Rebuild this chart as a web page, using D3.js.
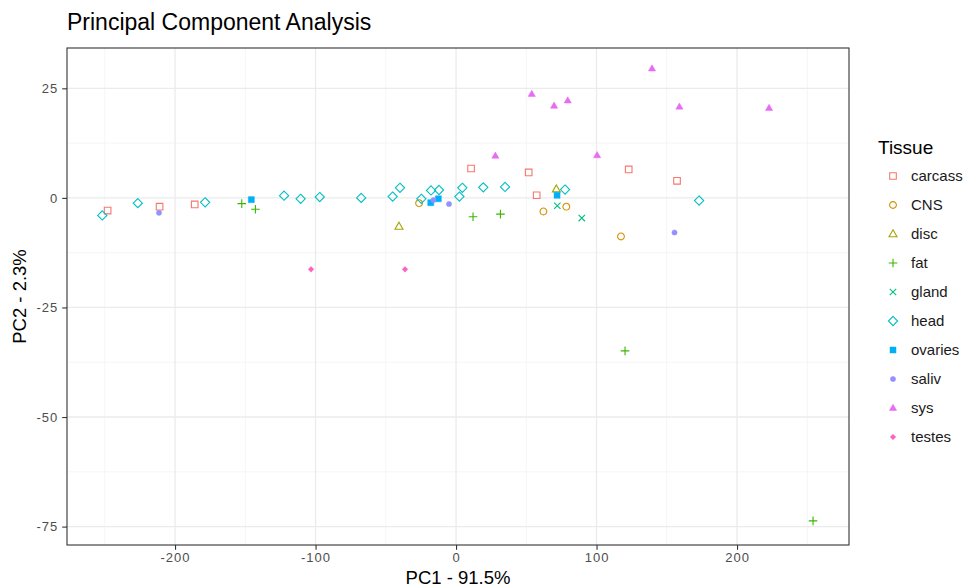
<!DOCTYPE html>
<html>
<head>
<meta charset="utf-8">
<script src="https://cdn.jsdelivr.net/npm/d3@7"></script>
<style>
  body { margin: 0; background: #fff; }
  text { font-family: "Liberation Sans", Arial, sans-serif; }
</style>
</head>
<body>
<div id="chart"></div>
<script>
// tissue groups in legend order
var tissues = ["carcass", "CNS", "disc", "fat", "gland", "head", "ovaries", "saliv", "sys", "testes"];
var colors = ["#F8766D", "#D89000", "#A3A500", "#39B600", "#00BF7D", "#00BFC4", "#00B0F6", "#9590FF", "#E76BF3", "#FF62BC"];

// PC scores, [PC1, PC2]
var carcass = [[-248, -2.9], [-211, -2.0], [-186, -1.5], [10.7, 6.7], [51.7, 5.8], [57.4, 0.6], [122.9, 6.5], [157.3, 3.9]];
var cns = [[-26.3, -1.2], [62.2, -3.1], [78.5, -2.0], [117.4, -8.8]];
var disc = [[-40.6, -6.5], [71.4, 2.0]];
var fat = [[-152.5, -1.3], [-142.8, -2.6], [12.1, -4.3], [31.6, -3.7], [120.3, -34.9], [254.1, -73.7]];
var gland = [[72.1, -1.8], [89.5, -4.6]];
var head = [[-251.8, -4.0], [-226.5, -1.2], [-178.6, -1.0], [-122.4, 0.5], [-110.6, -0.2], [-97.0, 0.2], [-67.5, 0.0],
            [-45.1, 0.3], [-39.9, 2.3], [-24.7, -0.2], [-17.8, 1.7], [-12.1, 1.8], [2.4, 0.3], [4.5, 2.3],
            [19.4, 2.4], [34.9, 2.5], [77.6, 1.9], [173.0, -0.6]];
var ovaries = [[-145.7, -0.4], [-18.0, -1.1], [-12.6, -0.2], [71.9, 0.6]];
var saliv = [[-211.4, -3.4], [-16.1, -0.5], [-5.0, -1.4], [155.5, -7.9]];
var sys = [[28.0, 9.6], [53.9, 23.7], [69.8, 21.0], [79.5, 22.2], [100.4, 9.7], [139.5, 29.5], [159.0, 20.8], [222.8, 20.5]];
var testes = [[-103.2, -16.3], [-36.3, -16.3]];

var groups = [carcass, cns, disc, fat, gland, head, ovaries, saliv, sys, testes];

var xTicks = [-200, -100, 0, 100, 200];
var yTicks = [25, 0, -25, -50, -75];
var xMinor = [-250, -150, -50, 50, 150, 250];
var yMinor = [12.5, -12.5, -37.5, -62.5];

var width = 966, height = 587;
var margin = { top: 48, right: 117, bottom: 42, left: 67 };
var pw = width - margin.left - margin.right,
    ph = height - margin.top - margin.bottom;

var svg = d3.select("#chart")
    .append("svg")
    .attr("width", width)
    .attr("height", height);

var x = d3.scaleLinear()
    .domain([-276.9, 279.7])
    .range([0, pw]);
var y = d3.scaleLinear()
    .domain([-79.2, 34.2])
    .range([ph, 0]);

var g = svg.append("g")
    .attr("transform", "translate(" + margin.left + "," + margin.top + ")");

// minor grid
g.selectAll(".xminor").data(xMinor).enter().append("line")
    .attr("x1", function(d) { return x(d); }).attr("x2", function(d) { return x(d); })
    .attr("y1", 0).attr("y2", ph)
    .style("stroke", "#f2f2f2").style("stroke-width", 0.8);
g.selectAll(".yminor").data(yMinor).enter().append("line")
    .attr("y1", function(d) { return y(d); }).attr("y2", function(d) { return y(d); })
    .attr("x1", 0).attr("x2", pw)
    .style("stroke", "#f2f2f2").style("stroke-width", 0.8);

// major grid
g.selectAll(".xmajor").data(xTicks).enter().append("line")
    .attr("x1", function(d) { return x(d); }).attr("x2", function(d) { return x(d); })
    .attr("y1", 0).attr("y2", ph)
    .style("stroke", "#ebebeb").style("stroke-width", 1.3);
g.selectAll(".ymajor").data(yTicks).enter().append("line")
    .attr("y1", function(d) { return y(d); }).attr("y2", function(d) { return y(d); })
    .attr("x1", 0).attr("x2", pw)
    .style("stroke", "#ebebeb").style("stroke-width", 1.3);

// axes (plain hyphen for negatives, like R)
var fmt = function(d) { return String(d); };
var xAxis = g.append("g")
    .attr("transform", "translate(0," + ph + ")")
    .call(d3.axisBottom(x).tickValues(xTicks).tickFormat(fmt).tickSize(4.8).tickPadding(2.7));
var yAxis = g.append("g")
    .call(d3.axisLeft(y).tickValues(yTicks).tickFormat(fmt).tickSize(4.8).tickPadding(4));
[xAxis, yAxis].forEach(function(a) {
    a.select(".domain").remove();
    a.selectAll(".tick line").style("stroke", "#333").style("stroke-width", 1.1);
    a.selectAll(".tick text").style("fill", "#4d4d4d").style("font-size", "13px")
        .style("letter-spacing", "1px")
        .style("font-family", "'Liberation Sans', Arial, sans-serif");
});

// panel border
g.append("rect")
    .attr("width", pw).attr("height", ph)
    .style("fill", "none").style("stroke", "#333").style("stroke-width", 1.1);

// point shapes, ggplot style
function shapePath(i) {
    switch (i) {
        case 0: return "M-3.3,-3.3H3.3V3.3H-3.3Z";
        case 1: return "M3.4,0A3.4,3.4 0 1,1 -3.4,0A3.4,3.4 0 1,1 3.4,0Z";
        case 2: return "M0,-4.2L4,2.8H-4Z";
        case 3: return "M-4.3,0H4.3M0,-4.3V4.3";
        case 4: return "M-3.2,-3.2L3.2,3.2M-3.2,3.2L3.2,-3.2";
        case 5: return "M0,-4.6L4.6,0L0,4.6L-4.6,0Z";
        case 6: return "M-3,-3H3V3H-3Z";
        case 7: return "M2.6,0A2.6,2.6 0 1,1 -2.6,0A2.6,2.6 0 1,1 2.6,0Z";
        case 8: return "M0,-3.8L3.6,2.4H-3.6Z";
        case 9: return "M0,-2.8L2.8,0L0,2.8L-2.8,0Z";
    }
}
var filled = [false, false, false, false, false, false, true, true, true, true];

function drawPoint(sel, i) {
    sel.append("path")
        .attr("d", shapePath(i))
        .style("fill", filled[i] ? colors[i] : "none")
        .style("stroke", colors[i])
        .style("stroke-width", filled[i] ? 0.5 : 1.1);
}

var scatter = g.append("g");
groups.forEach(function(pts, i) {
    scatter.selectAll(".p" + i)
        .data(pts)
        .enter()
        .append("g")
        .attr("transform", function(d) { return "translate(" + x(d[0]) + "," + y(d[1]) + ")"; })
        .each(function() { drawPoint(d3.select(this), i); });
});

// titles
svg.append("text")
    .attr("x", 67).attr("y", 29.5)
    .style("font-size", "23px").style("fill", "#000")
    .text("Principal Component Analysis");
svg.append("text")
    .attr("x", margin.left + pw / 2).attr("y", 584)
    .attr("text-anchor", "middle")
    .style("font-size", "18.5px").style("fill", "#000")
    .text("PC1 - 91.5%");
svg.append("text")
    .attr("transform", "translate(26," + (margin.top + ph / 2) + ") rotate(-90)")
    .attr("text-anchor", "middle")
    .style("font-size", "18.5px").style("fill", "#000")
    .text("PC2 - 2.3%");

// legend
var legend = svg.append("g");
legend.append("text")
    .attr("x", 878).attr("y", 154)
    .style("font-size", "19px").style("fill", "#000")
    .text("Tissue");
tissues.forEach(function(t, i) {
    var item = legend.append("g")
        .attr("transform", "translate(893," + (176 + i * 29) + ")");
    drawPoint(item, i);
    item.append("text")
        .attr("x", 18).attr("y", 5)
        .style("font-size", "15px").style("fill", "#1a1a1a")
        .text(t);
});
</script>
</body>
</html>
